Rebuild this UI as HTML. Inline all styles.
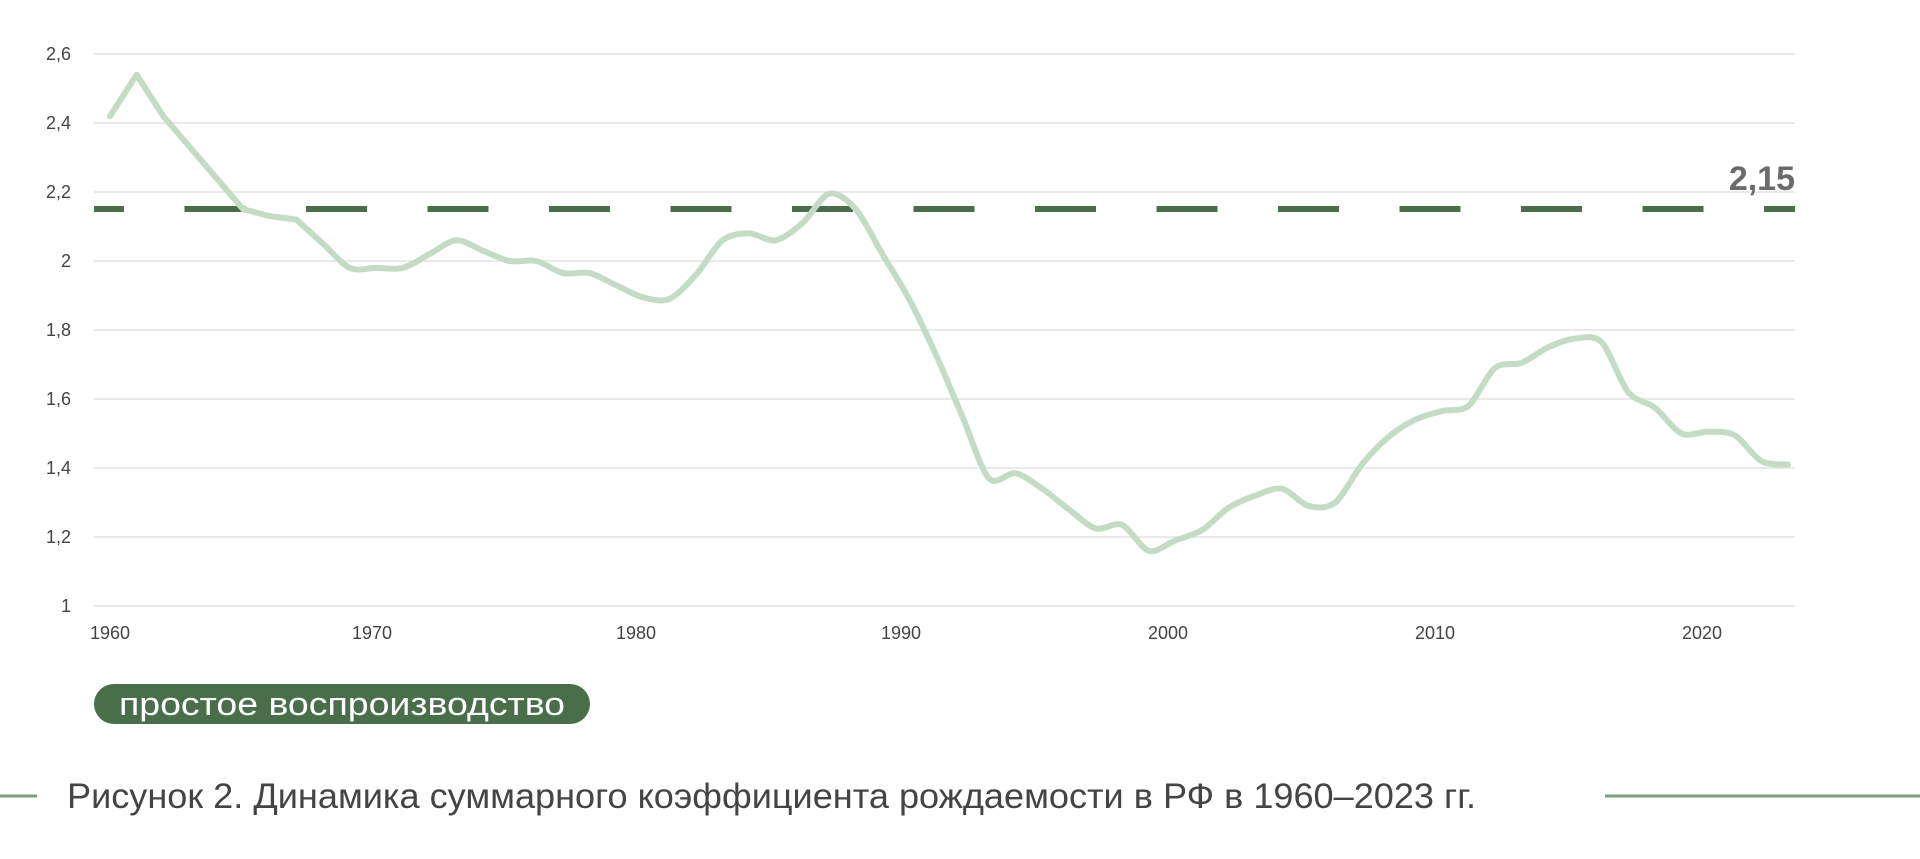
<!DOCTYPE html>
<html><head><meta charset="utf-8"><style>
html,body{margin:0;padding:0;background:#fff;width:1920px;height:859px;overflow:hidden}
svg{position:absolute;left:0;top:0}
text{font-family:"Liberation Sans",sans-serif}
</style></head><body>
<svg id="s" width="1920" height="859" viewBox="0 0 1920 859">
<g stroke="#e4e4e4" stroke-width="1.5">
<line x1="94" x2="1795" y1="54" y2="54"/><line x1="94" x2="1795" y1="123" y2="123"/>
<line x1="94" x2="1795" y1="192" y2="192"/><line x1="94" x2="1795" y1="261" y2="261"/>
<line x1="94" x2="1795" y1="330" y2="330"/><line x1="94" x2="1795" y1="399" y2="399"/>
<line x1="94" x2="1795" y1="468" y2="468"/><line x1="94" x2="1795" y1="537" y2="537"/>
<line x1="94" x2="1795" y1="606" y2="606"/>
</g>
<g fill="#444" font-size="18" text-anchor="end">
<text x="71" y="60">2,6</text><text x="71" y="129">2,4</text><text x="71" y="198">2,2</text>
<text x="71" y="267">2</text><text x="71" y="336">1,8</text><text x="71" y="405">1,6</text>
<text x="71" y="474">1,4</text><text x="71" y="543">1,2</text><text x="71" y="612">1</text>
</g>
<g fill="#444" font-size="18" text-anchor="middle">
<text x="110" y="639">1960</text><text x="372" y="639">1970</text><text x="636" y="639">1980</text>
<text x="901" y="639">1990</text><text x="1168" y="639">2000</text><text x="1435" y="639">2010</text>
<text x="1702" y="639">2020</text>
</g>
<line x1="94" x2="1795" y1="209" y2="209" stroke="#4a6e4a" stroke-width="6" stroke-dasharray="61 60.5" stroke-dashoffset="31"/>
<path id="p" fill="none" stroke="#c4dcc6" stroke-width="6" stroke-linecap="round" stroke-linejoin="round"/>
<text x="1795" y="190" text-anchor="end" font-size="34" font-weight="bold" fill="#6b6b6b">2,15</text>
<rect x="94" y="684" width="496" height="40" rx="20" fill="#4a6e4a"/>
<text x="119" y="715" font-size="32" fill="#fff" textLength="446" lengthAdjust="spacingAndGlyphs">простое воспроизводство</text>
<line x1="0" x2="37" y1="796" y2="796" stroke="#7aa37a" stroke-width="3"/>
<line x1="1605" x2="1920" y1="796" y2="796" stroke="#7aa37a" stroke-width="3"/>
<text x="67" y="808" font-size="35" fill="#444" textLength="1409" lengthAdjust="spacingAndGlyphs">Рисунок 2. Динамика суммарного коэффициента рождаемости в РФ в 1960–2023 гг.</text>
</svg>
<script>
var v=[2.42,2.54,2.42,2.33,2.24,2.15,2.13,2.12,2.05,1.98,1.98,1.98,2.02,2.06,2.03,2.0,2.0,1.965,1.965,1.93,1.895,1.89,1.96,2.06,2.08,2.06,2.11,2.195,2.15,2.02,1.89,1.73,1.55,1.37,1.385,1.34,1.28,1.225,1.235,1.16,1.19,1.22,1.285,1.32,1.34,1.29,1.30,1.41,1.49,1.54,1.565,1.58,1.69,1.705,1.75,1.775,1.765,1.62,1.575,1.50,1.505,1.495,1.42,1.41];
var pts=v.map(function(y,i){return [110+i*1678/63,54+(2.6-y)*345]});
var d="M"+pts[0][0]+","+pts[0][1];
for(var i=0;i<pts.length-1;i++){var p0=pts[Math.max(0,i-1)],p1=pts[i],p2=pts[i+1],p3=pts[Math.min(pts.length-1,i+2)];var t=(i<8)?0:0.15;
d+=" C"+(p1[0]+(p2[0]-p0[0])*t)+","+(p1[1]+(p2[1]-p0[1])*t)+" "+(p2[0]-(p3[0]-p1[0])*t)+","+(p2[1]-(p3[1]-p1[1])*t)+" "+p2[0]+","+p2[1];}
document.getElementById("p").setAttribute("d",d);
</script>
</body></html>
